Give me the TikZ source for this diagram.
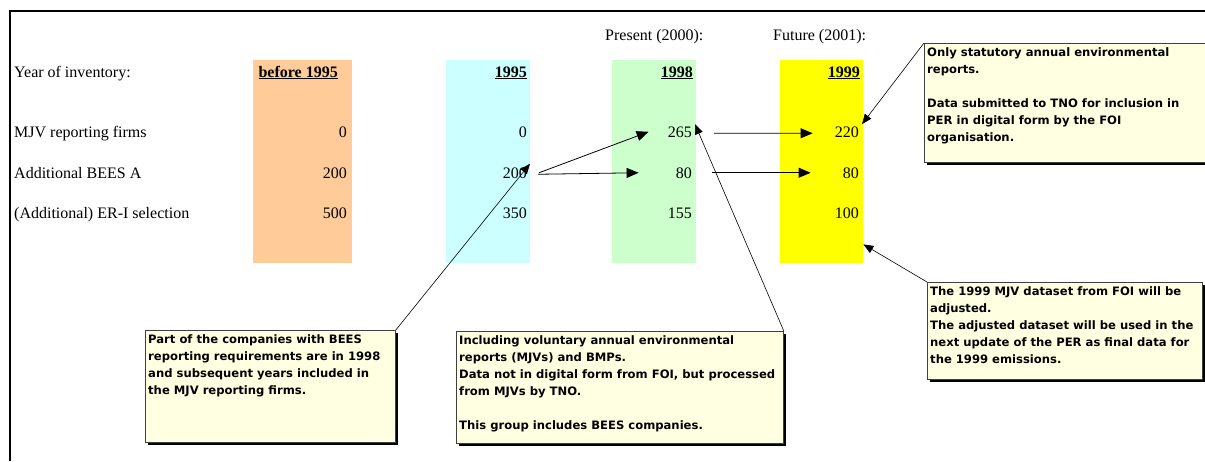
\documentclass[tikz,border=0pt]{standalone}
\usepackage{fontspec}
\setmainfont{Liberation Serif}
\newfontfamily\notefont{DejaVu Sans}
\usetikzlibrary{arrows.meta,shadows}
\definecolor{colpre}{HTML}{FFCC99}
\definecolor{col95}{HTML}{CCFFFF}
\definecolor{col98}{HTML}{CCFFCC}
\definecolor{col99}{HTML}{FFFF00}
\definecolor{notefill}{HTML}{FFFFE1}
\begin{document}
\begin{tikzpicture}[
    x=1pt,y=-1pt,
    every node/.style={font=\fontsize{16}{19}\selectfont, inner sep=0pt},
    col/.style={anchor=north west, minimum width=84, minimum height=203, inner sep=0pt},
    num/.style={anchor=base east},
    head/.style={anchor=base east, font=\fontsize{16}{19}\selectfont\bfseries},
    note/.style={anchor=north west, draw=black!75, line width=0.8pt, fill=notefill,
        drop shadow={shadow xshift=3pt, shadow yshift=-3pt, fill=black, opacity=1}},
    notetext/.style={anchor=north west, align=left, font=\fontsize{11.6}{17}\notefont\bfseries},
    flow/.style={-{Triangle[length=12pt,width=10pt]}, line width=0.8pt},
    lead/.style={-{Triangle[length=10pt,width=8pt]}, line width=0.6pt}
]
    \useasboundingbox (0,0) rectangle (1205,461);
    \draw[line width=1.6pt] (10,461) -- (10,11) -- (1210,11);

    % year columns
    \node[col, fill=colpre, minimum width=99] (cpre) at (253,60) {};
    \node[col, fill=col95] (c95) at (446,60) {};
    \node[col, fill=col98] (c98) at (612,60) {};
    \node[col, fill=col99, minimum width=83] (c99) at (780,60) {};

    \node[anchor=base west] (present) at (605,40) {Present (2000):};
    \node[anchor=base west] (future) at (773,40) {Future (2001):};

    \node[anchor=base west] (year) at (14,77) {Year of inventory:};
    \node[head] (hpre) at (338,77) {\underline{before 1995}};
    \node[head] (h95) at (527,77) {\underline{1995}};
    \node[head] (h98) at (693,77) {\underline{1998}};
    \node[head] (h99) at (860,77) {\underline{1999}};

    \foreach \y/\txt [count=\i] in {137/MJV reporting firms, 178/Additional BEES A, 218/(Additional) ER-I selection} {
        \node[anchor=base west] (row\i) at (14,\y) {\txt};
    }

    \foreach \c/\x/\m/\b/\e in {pre/347/0/200/500, y95/527/0/200/350, y98/692/265/80/155, y99/859/220/80/100} {
        \node[num] (\c-mjv) at (\x,137) {\m};
        \node[num] (\c-bees) at (\x,178) {\b};
        \node[num] (\c-eri) at (\x,218) {\e};
    }

    % flows between years
    \draw[flow] ([xshift=12]y95-bees.east) -- ([xshift=-19]y98-mjv.west);
    \draw[flow] ([xshift=11,yshift=-1.5]y95-bees.east) -- ([xshift=-37]y98-bees.west);
    \draw[flow] ([xshift=22,yshift=-1.5]y98-mjv.east) -- ([xshift=-22,yshift=-1.5]y99-mjv.west);
    \draw[flow] ([xshift=20]y98-bees.east) -- ([xshift=-32]y99-bees.west);

    % callouts
    \node[note, minimum width=250, minimum height=112] (note1) at (145,330) {};
    \node[notetext] (text1) at ([xshift=3,yshift=-4]note1.north west)
        {Part of the companies with BEES\\reporting requirements are in 1998\\and subsequent years included in\\the MJV reporting firms.};

    \node[note, minimum width=327, minimum height=112] (note2) at (456,331) {};
    \node[notetext] (text2) at ([xshift=3,yshift=-4]note2.north west)
        {Including voluntary annual environmental\\reports (MJVs) and BMPs.\\Data not in digital form from FOI, but processed\\from MJVs by TNO.\\[17pt]This group includes BEES companies.};

    \node[note, minimum width=290, minimum height=119] (note3) at (924,43) {};
    \node[notetext] (text3) at ([xshift=3,yshift=-4]note3.north west)
        {Only statutory annual environmental\\reports.\\[17pt]Data submitted to TNO for inclusion in\\PER in digital form by the FOI\\organisation.};

    \node[note, minimum width=275, minimum height=97] (note4) at (927,282) {};
    \node[notetext] (text4) at ([xshift=3,yshift=-4]note4.north west)
        {The 1999 MJV dataset from FOI will be\\adjusted.\\The adjusted dataset will be used in the\\next update of the PER as final data for\\the 1999 emissions.};

    \draw[lead] (note1.north east) -- ([xshift=3,yshift=9]y95-bees.east);
    \draw[lead] (note2.north east) -- ([xshift=3,yshift=2]y98-mjv.north east);
    \draw[lead] (note3.north west) -- ([xshift=3,yshift=2]y99-mjv.north east);
    \draw[lead] (note4.north west) -- ([yshift=19]c99.south east);
\end{tikzpicture}
\end{document}
